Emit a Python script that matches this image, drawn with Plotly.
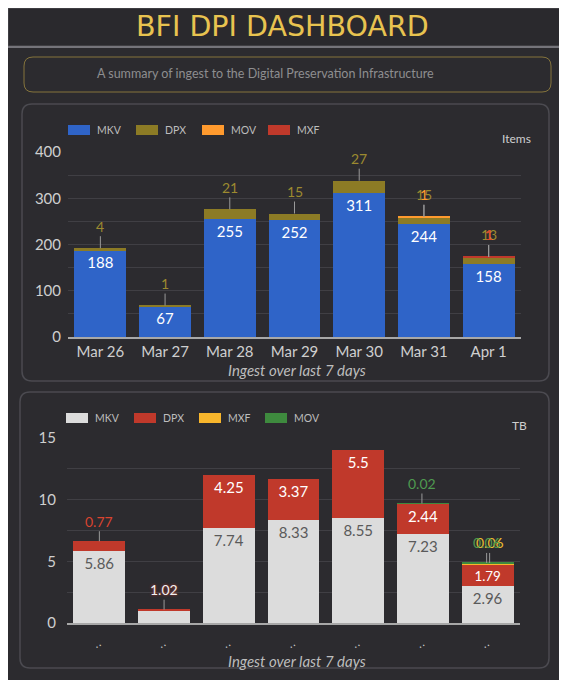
import plotly.graph_objects as go

# page body adds an 8px margin, so the figure covers reference pixels 8..567 / 8..680
OFF = 8
W, H = 567 - OFF, 680 - OFF

# ---------------- data ----------------
days = ["Mar 26", "Mar 27", "Mar 28", "Mar 29", "Mar 30", "Mar 31", "Apr 1"]

items_mkv = [188, 67, 255, 252, 311, 244, 158]
items_dpx = [4, 1, 21, 15, 27, 15, 13]
items_mov = [0, 0, 0, 0, 0, 1, 1]
items_mxf = [0, 0, 0, 0, 0, 0, 1]

tb_mkv = [5.86, 1.02, 7.74, 8.33, 8.55, 7.23, 2.96]
tb_dpx = [0.77, 0.06, 4.25, 3.37, 5.5, 2.44, 1.79]
tb_mxf = [0, 0, 0, 0, 0, 0, 0.06]
tb_mov = [0, 0, 0, 0, 0, 0.02, 0.06]

items_ticks = [0, 100, 200, 300, 400]
tb_ticks = [0, 5, 10, 15]
bottom_ticktext = ["‥"] * len(days)

# ---------------- styles ----------------
C_BLUE = "#2f64c8"
C_OLIVE = "#8c7b25"
C_ORANGE = "#ff9a2e"
C_RED = "#c0392b"
C_LGRAY = "#dcdcdc"
C_YELLOW = "#f8b62c"
C_GREEN = "#3e8a3e"
BG = "#2c2b2f"
FONT = "Lato"


def px(x):
    return (x - OFF) / W


def py(y):
    return 1 - (y - OFF) / H


def rrect(x0, y0, x1, y1, r):
    return (
        f"M {px(x0 + r)} {py(y0)} L {px(x1 - r)} {py(y0)} "
        f"Q {px(x1)} {py(y0)} {px(x1)} {py(y0 + r)} "
        f"L {px(x1)} {py(y1 - r)} Q {px(x1)} {py(y1)} {px(x1 - r)} {py(y1)} "
        f"L {px(x0 + r)} {py(y1)} Q {px(x0)} {py(y1)} {px(x0)} {py(y1 - r)} "
        f"L {px(x0)} {py(y0 + r)} Q {px(x0)} {py(y0)} {px(x0 + r)} {py(y0)} Z"
    )


fig = go.Figure()

# ---------------- top chart (items) ----------------
top_series = [("MKV", items_mkv, C_BLUE), ("DPX", items_dpx, C_OLIVE),
              ("MOV", items_mov, C_ORANGE), ("MXF", items_mxf, C_RED)]
for name, vals, col in top_series:
    inside = name == "MKV"
    fig.add_trace(go.Bar(
        x=days, y=vals, name=name, marker=dict(color=col, line_width=0),
        xaxis="x", yaxis="y", showlegend=False,
        text=[str(v) for v in vals] if inside else None,
        textposition="inside" if inside else "none",
        insidetextanchor="end", textangle=0,
        textfont=dict(color="white", size=15, family=FONT),
        hoverinfo="skip",
    ))

# ---------------- bottom chart (TB) ----------------
bot_series = [("MKV", tb_mkv, C_LGRAY, "#5a5a5a"), ("DPX", tb_dpx, C_RED, "white"),
              ("MXF", tb_mxf, C_YELLOW, "white"), ("MOV", tb_mov, C_GREEN, "white")]
for name, vals, col, tcol in bot_series:
    txt_ = [f"{v:g}" if v >= 1.5 else "" for v in vals]
    fig.add_trace(go.Bar(
        x=days, y=vals, name=name, marker=dict(color=col, line_width=0),
        xaxis="x2", yaxis="y2", showlegend=False,
        text=txt_, textposition="inside", insidetextanchor="end", textangle=0,
        textfont=dict(color=tcol, size=15, family=FONT),
        hoverinfo="skip",
    ))

annotations = []

# outside labels, top chart
label_cols_top = {"DPX": "#9c8a30", "MOV": "#ff9a2e", "MXF": "#d9482f"}
tops = [sum(v) for v in zip(items_mkv, items_dpx, items_mov, items_mxf)]
for name, vals, col in top_series[1:]:
    for i, v in enumerate(vals):
        if v > 0:
            annotations.append(dict(
                x=days[i], y=tops[i], xref="x", yref="y", text=str(v),
                showarrow=True, arrowhead=0, arrowwidth=1, arrowcolor="#9a9a9a",
                ax=0, ay=-22, standoff=0,
                font=dict(color=label_cols_top[name], size=14, family=FONT)))

# outside labels, bottom chart
btops = [sum(v) for v in zip(tb_mkv, tb_dpx, tb_mxf, tb_mov)]
label_cols_bot = {"MKV": "#f0f0f0", "DPX": "#d9442f", "MXF": "#e8b830", "MOV": "#4f9a4f"}
shift = {"MKV": 0, "DPX": 0, "MXF": 2, "MOV": -1}
for name, vals, col, tcol in bot_series:
    for i, v in enumerate(vals):
        small = 0 < v < 1.5
        if name == "DPX" and v < 0.1:
            small = False
        if small:
            f = dict(color=label_cols_bot[name], size=14, family=FONT)
            if name == "MKV":
                f["shadow"] = "0px 0px 3px #c0392b"
            annotations.append(dict(
                x=days[i], y=btops[i], xref="x2", yref="y2", text=f"{v:g}",
                showarrow=True, arrowhead=0, arrowwidth=1, arrowcolor="#9a9a9a",
                ax=0, ay=-20, standoff=0, xshift=shift[name], font=f))


def txt(x, y, s, size, color, family=FONT, xanchor="center"):
    annotations.append(dict(x=px(x), y=py(y), xref="paper", yref="paper", text=s,
                            xanchor=xanchor, yanchor="middle", showarrow=False,
                            font=dict(color=color, size=size, family=family)))


txt(282, 26, "BFI DPI DASHBOARD", 28.5, "#e8c350", family="DejaVu Sans")
txt(265, 74, "A summary of ingest to the Digital Preservation Infrastructure", 12.5, "#8e8e90")
txt(533, 138, "Items", 12, "#cfcfcf", xanchor="right")
txt(529, 425, "TB", 12, "#cfcfcf", xanchor="right")
txt(297, 370, "<i>Ingest over last 7 days</i>", 15, "#bdbdbd")
txt(297, 661, "<i>Ingest over last 7 days</i>", 15, "#bdbdbd")

shapes = [
    # right edge strip
    dict(type="rect", xref="paper", yref="paper", x0=px(561), x1=1, y0=0, y1=1,
         fillcolor="#333236", line_width=0, layer="below"),
    # title band
    dict(type="rect", xref="paper", yref="paper", x0=0, x1=px(561), y0=py(46), y1=1,
         fillcolor="#2a292d", line=dict(color="#555459", width=1), layer="below"),
    dict(type="line", xref="paper", yref="paper", x0=0, x1=px(561), y0=py(47), y1=py(47),
         line=dict(color="#75747a", width=2)),
    # subtitle box
    dict(type="path", xref="paper", yref="paper", path=rrect(24, 57, 551, 92, 9),
         line=dict(color="#85743c", width=1), layer="below"),
    # panels
    dict(type="path", xref="paper", yref="paper", path=rrect(22, 104, 549, 381, 10),
         line=dict(color="#4b4a50", width=1.5), layer="below"),
    dict(type="path", xref="paper", yref="paper", path=rrect(20, 392, 549, 668, 10),
         line=dict(color="#4b4a50", width=1.5), layer="below"),
]


def legend(entries, x_starts, ytop):
    for (name, col), x0 in zip(entries, x_starts):
        shapes.append(dict(type="rect", xref="paper", yref="paper",
                           x0=px(x0), x1=px(x0 + 22), y0=py(ytop + 10), y1=py(ytop),
                           fillcolor=col, line_width=0))
        txt(x0 + 27, ytop + 5, name, 10.5, "#bdbdbd", xanchor="left")


legend([(n, c) for n, _, c in top_series], [68, 136, 202, 268], 125)
legend([(n, c) for n, _, c, _t in bot_series], [66, 134, 199, 265], 413)

axis_common = dict(showgrid=True, gridcolor="#403f44", gridwidth=1,
                   tickfont=dict(color="#cfcfcf", size=15, family=FONT),
                   zeroline=False, ticks="", fixedrange=True, automargin=False)

fig.update_layout(
    width=W, height=H, margin=dict(l=0, r=0, t=0, b=0, pad=0, autoexpand=False),
    paper_bgcolor=BG, plot_bgcolor="rgba(0,0,0,0)",
    barmode="stack", bargap=0.2, showlegend=False,
    font=dict(family=FONT),
    xaxis=dict(domain=[px(68), px(521)], anchor="y", showgrid=False, automargin=False,
               showline=True, linecolor="#a8a8a8", linewidth=1.5,
               tickfont=dict(color="#cfcfcf", size=15, family=FONT), ticks=""),
    yaxis=dict(domain=[py(337), py(152)], anchor="x", range=[0, 400],
               tickvals=items_ticks, ticklabelstandoff=6,
               minor=dict(dtick=50, showgrid=True, gridcolor="#403f44"), **axis_common),
    xaxis2=dict(domain=[px(67), px(520)], anchor="y2", showgrid=False, automargin=False,
                showline=True, linecolor="#a8a8a8", linewidth=1.5,
                tickvals=days, ticktext=bottom_ticktext, tickangle=-30,
                ticklabelstandoff=8,
                tickfont=dict(color="#d0d0d0", size=11, family="DejaVu Sans"), ticks=""),
    yaxis2=dict(domain=[py(623), py(438)], anchor="x2", range=[0, 15],
                tickvals=tb_ticks, ticklabelstandoff=10,
                minor=dict(dtick=2.5, showgrid=True, gridcolor="#403f44"), **axis_common),
    shapes=shapes, annotations=annotations,
)

fig.write_html("out.html")
